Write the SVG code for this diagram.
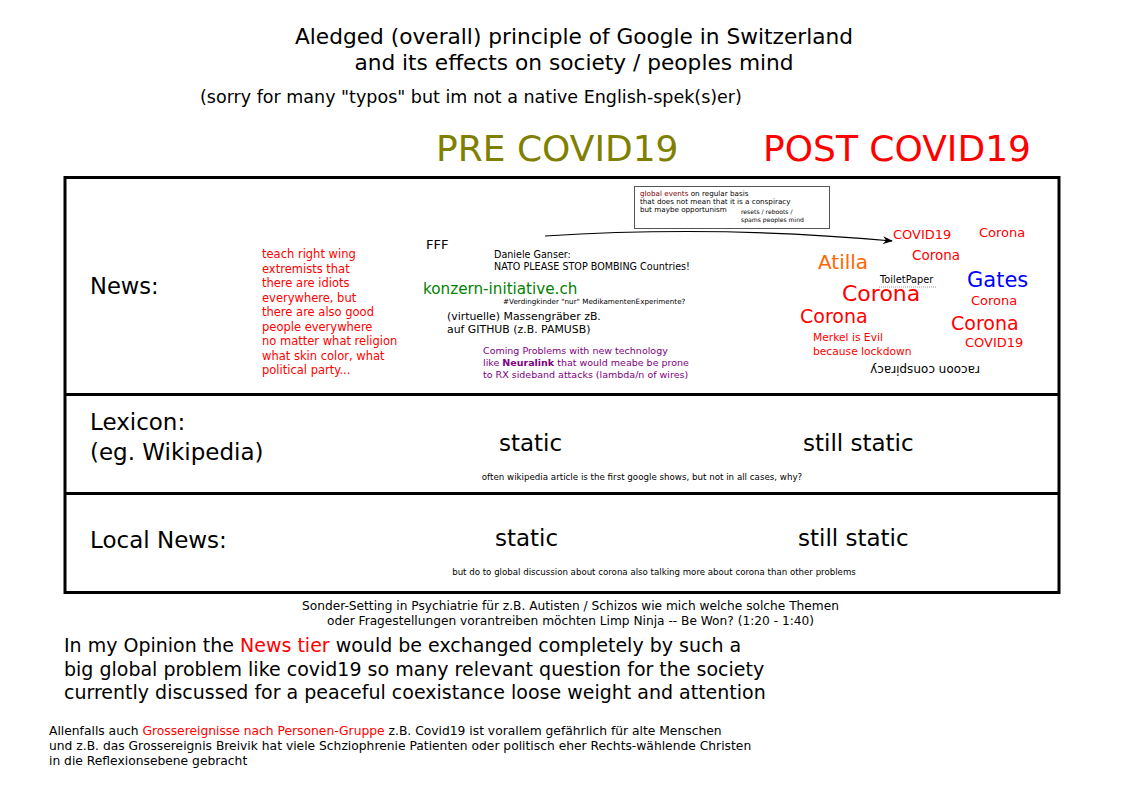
<svg xmlns="http://www.w3.org/2000/svg" width="1123" height="794" viewBox="0 0 1123 794">
<defs>
<marker id="ah" markerWidth="10" markerHeight="8" refX="9" refY="4" orient="auto" markerUnits="userSpaceOnUse"><path d="M0,0 L10,4 L0,8 L3,4 Z" fill="#000"/></marker>
<style>
text{font-family:"DejaVu Sans","Liberation Sans",sans-serif;fill:#000}
.r{fill:#ff0000}
.p{fill:#800080}
.box{fill:none;stroke:#000;stroke-width:3}
</style>
</defs>
<rect width="1123" height="794" fill="#fff"/>
<g id="title">
<text x="574" y="44" font-size="21.7" text-anchor="middle">Aledged (overall) principle of Google in Switzerland</text>
<text x="574" y="70" font-size="21.7" text-anchor="middle">and its effects on society / peoples mind</text>
<text x="200" y="103" font-size="17.5">(sorry for many "typos" but im not a native English-spek(s)er)</text>
</g>
<g id="headers">
<text x="436" y="161" font-size="36" style="fill:#808000">PRE COVID19</text>
<text x="763" y="161" font-size="36" class="r">POST COVID19</text>
</g>
<g id="table">
<rect class="box" x="65" y="177.5" width="994" height="415"/>
<line x1="65" y1="394.5" x2="1059" y2="394.5" stroke="#000" stroke-width="3"/>
<line x1="65" y1="493.5" x2="1059" y2="493.5" stroke="#000" stroke-width="3"/>
</g>
<g id="row-news">
<text x="90" y="294" font-size="22.6">News:</text>
<g font-size="11.5">
<text x="262" y="258" class="r">teach right wing</text>
<text x="262" y="272.5" class="r">extremists that</text>
<text x="262" y="287" class="r">there are idiots</text>
<text x="262" y="301.5" class="r">everywhere, but</text>
<text x="262" y="316" class="r">there are also good</text>
<text x="262" y="330.5" class="r">people everywhere</text>
<text x="262" y="345" class="r">no matter what religion</text>
<text x="262" y="359.5" class="r">what skin color, what</text>
<text x="262" y="374" class="r">political party...</text>
</g>
<text x="426" y="249" font-size="13">FFF</text>
<text x="494" y="258" font-size="9.6">Daniele Ganser:</text>
<text x="494" y="270" font-size="9.6">NATO PLEASE STOP BOMBING Countries!</text>
<text x="423" y="294" font-size="15.2" style="fill:#008000">konzern-initiative.ch</text>
<text x="503" y="304" font-size="7.2">#Verdingkinder "nur" MedikamentenExperimente?</text>
<text x="447" y="320" font-size="10.9">(virtuelle) Massengräber zB.</text>
<text x="447" y="333" font-size="10.9">auf GITHUB (z.B. PAMUSB)</text>
<text x="483" y="354" font-size="9.5" class="p">Coming Problems with new technology</text>
<text x="483" y="366" font-size="9.5" class="p">like <tspan font-weight="bold">Neuralink</tspan> that would meabe be prone</text>
<text x="483" y="378" font-size="9.5" class="p">to RX sideband attacks (lambda/n of wires)</text>
</g>
<g id="note-global-events">
<rect x="634.5" y="186.5" width="195" height="42" fill="#fff" stroke="#555" stroke-width="1"/>
<text x="640" y="196" font-size="7.2"><tspan style="fill:#800000">global events</tspan> on regular basis</text>
<text x="640" y="204" font-size="7.2">that does not mean that it is a conspiracy</text>
<text x="640" y="212" font-size="7.2">but maybe opportunism</text>
<text x="741" y="214" font-size="6.1">resets / reboots /</text>
<text x="741" y="222" font-size="6.1">spams peoples mind</text>
</g>
<g id="connectors">
<path d="M545,236 Q720,225 892,241" fill="none" stroke="#000" stroke-width="1.2" marker-end="url(#ah)"/>
</g>
<g id="post-news">
<text x="893" y="239" font-size="13" class="r">COVID19</text>
<text x="979" y="237" font-size="13" class="r">Corona</text>
<text x="818" y="269" font-size="20" style="fill:#ff6600">Atilla</text>
<text x="912" y="260" font-size="13.5" class="r">Corona</text>
<text x="880" y="282.5" font-size="9.8">ToiletPaper</text>
<line x1="879" y1="287" x2="936" y2="287" stroke="#999" stroke-width="1" stroke-dasharray="1,1"/>
<text x="967" y="287" font-size="21" style="fill:#0000ff">Gates</text>
<text x="842" y="301" font-size="22" class="r">Corona</text>
<text x="971" y="305" font-size="13" class="r">Corona</text>
<text x="800" y="323" font-size="19" class="r">Corona</text>
<text x="951" y="330" font-size="19" class="r">Corona</text>
<text x="965" y="347" font-size="13" class="r">COVID19</text>
<text x="813" y="341" font-size="10.7" class="r">Merkel is Evil</text>
<text x="813" y="355" font-size="10.7" class="r">because lockdown</text>
<text x="925" y="366" font-size="12" text-anchor="middle" transform="rotate(180 925 366)">racoon conspiracy</text>
</g>
<g id="row-lexicon">
<text x="90" y="430" font-size="23">Lexicon:</text>
<text x="90" y="460" font-size="23">(eg. Wikipedia)</text>
<text x="499" y="451" font-size="23">static</text>
<text x="803" y="451" font-size="23">still static</text>
<text x="642" y="480" font-size="8.7" text-anchor="middle">often wikipedia article is  the first google shows, but not in all cases, why?</text>
</g>
<g id="row-local">
<text x="90" y="548" font-size="23">Local News:</text>
<text x="495" y="546" font-size="23">static</text>
<text x="798" y="546" font-size="23">still static</text>
<text x="654" y="575" font-size="8.65" text-anchor="middle">but do to global discussion about corona also talking more about corona than other problems</text>
</g>
<g id="footer">
<text x="570.5" y="610" font-size="12.2" text-anchor="middle">Sonder-Setting in Psychiatrie für z.B. Autisten / Schizos wie mich welche solche Themen</text>
<text x="570.5" y="625" font-size="12.2" text-anchor="middle">oder Fragestellungen vorantreiben möchten Limp Ninja -- Be Won? (1:20 - 1:40)</text>
<text x="64" y="652" font-size="19">In my Opinion the <tspan class="r">News tier</tspan> would be exchanged completely by such a</text>
<text x="64" y="676" font-size="19">big global problem like covid19 so many relevant question for the society</text>
<text x="64" y="699" font-size="19">currently discussed for a peaceful coexistance loose weight and attention</text>
<text x="49" y="735" font-size="12.3">Allenfalls auch <tspan class="r">Grossereignisse nach Personen-Gruppe</tspan> z.B. Covid19 ist vorallem gefährlich für alte Menschen</text>
<text x="49" y="750" font-size="12.3">und z.B. das Grossereignis Breivik hat viele Schziophrenie Patienten oder politisch eher Rechts-wählende Christen</text>
<text x="49" y="765" font-size="12.3">in die Reflexionsebene gebracht</text>
</g>
</svg>
